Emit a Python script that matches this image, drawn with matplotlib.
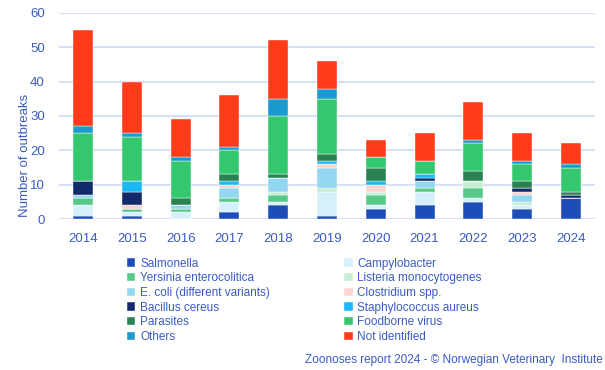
import matplotlib
matplotlib.use('Agg')
import matplotlib.pyplot as plt
import numpy as np

years = ['2014', '2015', '2016', '2017', '2018', '2019', '2020', '2021', '2022', '2023', '2024']

# outbreaks per agent, stacked bottom to top
salmonella = [1, 1, 0, 2, 4, 1, 3, 4, 5, 3, 6]
campylobacter = [3, 1, 2, 3, 1, 7, 1, 4, 1, 1, 0]
yersinia = [2, 1, 1, 1, 2, 0, 3, 1, 3, 0, 0]
listeria = [0, 0, 0, 0, 1, 1, 1, 0, 2, 1, 0]
ecoli = [1, 0, 1, 3, 4, 6, 0, 2, 0, 2, 0]
clostridium = [0, 1, 0, 1, 0, 1, 2, 0, 0, 1, 0]
bacillus = [4, 4, 0, 0, 0, 0, 0, 1, 0, 1, 1]
staph = [0, 3, 0, 1, 0, 1, 1, 1, 0, 0, 0]
parasites = [0, 0, 2, 2, 1, 2, 4, 0, 3, 2, 1]
virus = [14, 13, 11, 7, 17, 16, 3, 4, 8, 5, 7]
others = [2, 1, 1, 1, 5, 3, 0, 0, 1, 1, 1]
not_identified = [28, 15, 11, 15, 17, 8, 5, 8, 11, 8, 6]

labels = ['Salmonella', 'Campylobacter', 'Yersinia enterocolitica', 'Listeria monocytogenes',
          'E. coli (different variants)', 'Clostridium spp.', 'Bacillus cereus',
          'Staphylococcus aureus', 'Parasites', 'Foodborne virus', 'Others', 'Not identified']
series = [salmonella, campylobacter, yersinia, listeria, ecoli, clostridium, bacillus,
          staph, parasites, virus, others, not_identified]
colors = ['#1E4DB7', '#D6F0FB', '#57C885', '#C5EED5', '#93D6F0', '#FDD5D0', '#122B6B',
          '#1AB8F5', '#2A8251', '#34C86E', '#1B9AD0', '#FF3B1A']

txt = '#3A5BC2'
plt.rcParams['font.family'] = ['Liberation Sans', 'DejaVu Sans']

fig = plt.figure(figsize=(6.05, 3.7), dpi=100)
ax = fig.add_axes([0.097, 0.408, 0.887, 0.557])

x = np.arange(len(years))
bottom = np.zeros(len(years))
handles = []
for lab, vals, c in zip(labels, series, colors):
    b = ax.bar(x, vals, 0.41, bottom=bottom, color=c, label=lab,
               edgecolor='white', linewidth=0.3)
    handles.append(b)
    bottom += np.array(vals)

ax.set_xlim(-0.5, len(years) - 0.5)
ax.set_ylim(0, 60)
ax.set_yticks(range(0, 61, 10))
ax.set_xticks(x)
ax.set_xticklabels(years)
ax.yaxis.grid(True, color='#D0DBF5', linewidth=1.2)
ax.set_axisbelow(True)
for s in ax.spines.values():
    s.set_visible(False)
ax.tick_params(length=0, labelsize=9.5, colors=txt)
ax.tick_params(axis='x', pad=10)
ax.tick_params(axis='y', pad=10)
ax.set_ylabel('Number of outbreaks', color=txt, fontsize=9.5)
ax.yaxis.set_label_coords(-0.052, 0.31)

# row-wise legend order in two columns
order = list(range(0, 12, 2)) + list(range(1, 12, 2))
leg = fig.legend([handles[i] for i in order], [labels[i] for i in order],
                 ncol=2, loc='upper left', bbox_to_anchor=(0.21, 0.304),
                 frameon=False, fontsize=8.5, handlelength=0.7, handleheight=0.7,
                 handletextpad=0.4, columnspacing=6.3, labelspacing=0.23,
                 borderaxespad=0, borderpad=0)
for t in leg.get_texts():
    t.set_color(txt)

fig.text(0.997, 0.01, 'Zoonoses report 2024 - \u00a9 Norwegian Veterinary  Institute',
         ha='right', va='bottom', color=txt, fontsize=8.5)

fig.savefig('out.png', dpi=100)
